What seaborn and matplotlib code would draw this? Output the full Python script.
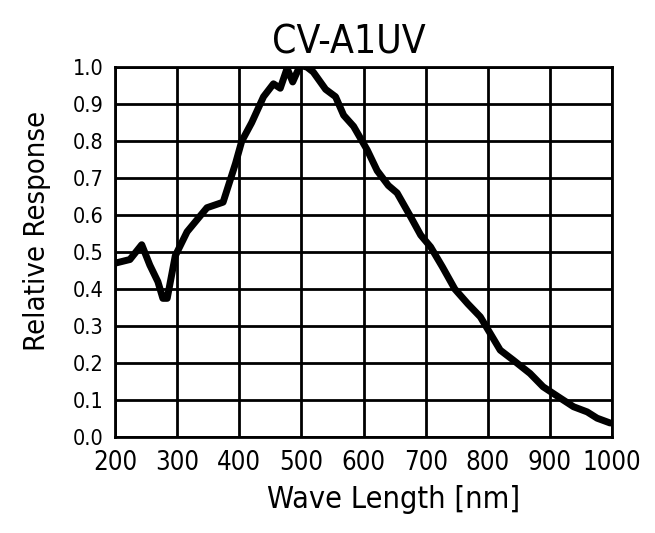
"""
Spectral response curve for the CV-A1UV camera.
"""

import numpy as np
import pandas as pd
import matplotlib
matplotlib.use("Agg")
import matplotlib.pyplot as plt
import seaborn as sns

# values
wavelength = [200, 224, 243, 256, 269, 277, 284, 297, 316, 348, 374, 394,
              404, 420, 439, 455, 466, 477, 486, 498, 509, 519, 539, 555,
              568, 584, 606, 622, 640, 654, 676, 692, 708, 727, 747, 768,
              788, 820, 841, 868, 889, 917, 938, 960, 976, 997]
response = [0.47, 0.48, 0.52, 0.465, 0.42, 0.375, 0.375, 0.49, 0.555, 0.62,
            0.635, 0.74, 0.80, 0.85, 0.92, 0.955, 0.943, 0.997, 0.96, 1.005,
            1.0, 0.987, 0.94, 0.92, 0.87, 0.84, 0.776, 0.72, 0.68, 0.66,
            0.595, 0.546, 0.514, 0.46, 0.40, 0.36, 0.325, 0.235, 0.208,
            0.172, 0.136, 0.105, 0.082, 0.068, 0.051, 0.038]
x_ticks = [200, 300, 400, 500, 600, 700, 800, 900, 1000]
y_ticks = [0.0, 0.1, 0.2, 0.3, 0.4, 0.5, 0.6, 0.7, 0.8, 0.9, 1.0]

df = pd.DataFrame({"Wave Length": wavelength, "Response": response})

sns.set_style("white")
plt.rcParams["font.family"] = ["DejaVu Sans"]
plt.rcParams["font.stretch"] = "condensed"
plt.rcParams["text.color"] = "black"
plt.rcParams["axes.labelcolor"] = "black"
plt.rcParams["xtick.color"] = "black"
plt.rcParams["ytick.color"] = "black"

fig = plt.figure(figsize=(6.55, 5.33), dpi=100)
ax = fig.add_axes([0.1756, 0.18, 0.7588, 0.694])

sns.lineplot(data=df, x="Wave Length", y="Response", ax=ax,
             color="black", linewidth=5.0, zorder=3)

ax.set_xlim(200, 1000)
ax.set_ylim(0.0, 1.0)
ax.set_xticks(x_ticks)
ax.set_yticks(y_ticks)
ax.set_yticklabels([f"{v:.1f}" for v in y_ticks])
ax.grid(True, color="black", linewidth=2.0)
ax.tick_params(axis="both", length=0)
ax.tick_params(axis="x", labelsize=18.5, pad=9)
ax.tick_params(axis="y", labelsize=15.5, pad=8)
for s in ax.spines.values():
    s.set_color("black")
    s.set_linewidth(2.0)

# labels sit a bit off-centre in the original
ax.set_xlabel("Wave Length [nm]", fontsize=22)
ax.xaxis.set_label_coords(0.56, -0.13)
ax.set_ylabel("Relative Response", fontsize=21)
ax.yaxis.set_label_coords(-0.128, 0.557)
ax.set_title("CV-A1UV", fontsize=28, x=0.47, pad=10)

fig.savefig("out.png", dpi=100)
